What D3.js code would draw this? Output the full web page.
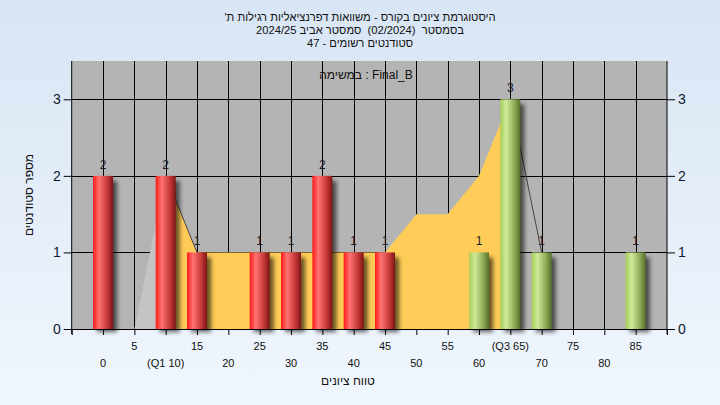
<!DOCTYPE html>
<html>
<head>
<meta charset="utf-8">
<script src="https://cdn.jsdelivr.net/npm/d3@7"></script>
<style>
	body { margin: 0; }
	svg { display: block; font-family: "Liberation Sans", Arial, sans-serif; }
	.pre { white-space: pre; }
</style>
</head>
<body>
<svg id="chart" width="720" height="405"></svg>
<script>
// Title lines
var titleLines = [
	"היסטוגרמת ציונים בקורס - משוואות דפרנציאליות רגילות ת'",
	"בסמסטר  (02/2024)  סמסטר אביב 2024/25",
	"סטודנטים רשומים - 47"
];
var subTitle = "במשימה : Final_B";
var xTitle = "טווח ציונים";
var yTitle = "מספר סטודנטים";

// Histogram bins and counts
var categories = [0, 5, 10, 15, 20, 25, 30, 35, 40, 45, 50, 55, 60, 65, 70, 75, 80, 85];
var counts     = [2, 0, 2, 1, 0, 1, 1, 2, 1, 1, 0, 0, 1, 3, 1, 0, 0, 1];
var tickLabels = ["0", "5", "(Q1 10)", "15", "20", "25", "30", "35", "40", "45",
	"50", "55", "60", "(Q3 65)", "70", "75", "80", "85"];
// bins from here on drawn green
var passFrom = 60;

// Background distribution curve
var curveX = [5, 10, 15, 20, 25, 30, 35, 40, 45, 50, 55, 60, 65, 70];
var curveY = [0, 2, 1, 1, 1, 1, 1, 1, 1, 1.5, 1.5, 2, 3, 1];

var yTicks = [0, 1, 2, 3];

var svg = d3.select("#chart");
var defs = svg.append("defs");

// page background
var bg = defs.append("linearGradient").attr("id", "bg")
	.attr("x1", 0).attr("y1", 0).attr("x2", 0).attr("y2", 1);
bg.append("stop").attr("offset", "0%").attr("stop-color", "#d8e5f4");
bg.append("stop").attr("offset", "100%").attr("stop-color", "#f0f6fd");

function cylinder(id, c0, c1, c2, c3) {
	var g = defs.append("linearGradient").attr("id", id)
		.attr("x1", 0).attr("y1", 0).attr("x2", 1).attr("y2", 0);
	g.append("stop").attr("offset", "0%").attr("stop-color", c0);
	g.append("stop").attr("offset", "30%").attr("stop-color", c1);
	g.append("stop").attr("offset", "70%").attr("stop-color", c2);
	g.append("stop").attr("offset", "100%").attr("stop-color", c3);
}
cylinder("red", "#ff1a1a", "#ff7272", "#c83a3a", "#7e1414");
cylinder("green", "#a6cf58", "#cfe99a", "#8fae58", "#55702a");

var blur = defs.append("filter").attr("id", "shadow")
	.attr("x", "-50%").attr("y", "-20%").attr("width", "200%").attr("height", "140%");
blur.append("feGaussianBlur").attr("stdDeviation", 2);

svg.append("rect").attr("width", 720).attr("height", 405).attr("fill", "url(#bg)");

var x = d3.scaleLinear().domain([-5, 90]).range([71.7, 667]);
var y = d3.scaleLinear().domain([0, 3.5]).range([329, 61]);

// plot area
svg.append("rect")
	.attr("x", x(-5)).attr("y", y(3.5))
	.attr("width", x(90) - x(-5)).attr("height", y(0) - y(3.5))
	.attr("fill", "#b4b4b4");

// grid
svg.append("g").selectAll("line").data(categories).join("line")
	.attr("x1", d => Math.round(x(d)) + 0.5).attr("x2", d => Math.round(x(d)) + 0.5)
	.attr("y1", y(3.5)).attr("y2", y(0))
	.attr("stroke", "#000");
svg.append("g").selectAll("line").data(yTicks.slice(1)).join("line")
	.attr("x1", x(-5)).attr("x2", x(90))
	.attr("y1", d => Math.round(y(d)) + 0.5).attr("y2", d => Math.round(y(d)) + 0.5)
	.attr("stroke", "#000");

// distribution curve: grey lead-in, yellow body, plain tail
var pts = curveX.map((d, i) => [d, curveY[i]]);
var area = d3.area().x(d => x(d[0])).y0(y(0)).y1(d => y(d[1]));
var line = d3.line().x(d => x(d[0])).y(d => y(d[1]));
var last = pts.length - 1;
svg.append("path").attr("d", area(pts.slice(0, 2))).attr("fill", "#c4c4c4");
svg.append("path").attr("d", area(pts.slice(1, last))).attr("fill", "#ffcc58");
svg.append("path").attr("d", line(pts.slice(1, 3))).attr("fill", "none")
	.attr("stroke", "#444").attr("stroke-width", 1);
svg.append("path").attr("d", line(pts.slice(last - 1))).attr("fill", "none")
	.attr("stroke", "#444").attr("stroke-width", 1);

// bars
var bw = 20;
var bins = categories.map((d, i) => ({ c: d, n: counts[i] })).filter(d => d.n > 0);
svg.append("g").selectAll("rect").data(bins).join("rect")
	.attr("x", d => x(d.c) - bw / 2 + 4).attr("y", d => y(d.n) + 5)
	.attr("width", bw).attr("height", d => y(0) - y(d.n) - 2)
	.attr("fill", "#000").attr("opacity", 0.6)
	.attr("filter", "url(#shadow)");
svg.append("g").selectAll("rect").data(bins).join("rect")
	.attr("x", d => x(d.c) - bw / 2).attr("y", d => y(d.n))
	.attr("width", bw).attr("height", d => y(0) - y(d.n))
	.attr("fill", d => d.c >= passFrom ? "url(#green)" : "url(#red)");
svg.append("g").selectAll("text").data(bins).join("text")
	.attr("x", d => x(d.c)).attr("y", d => y(d.n) - 7)
	.attr("text-anchor", "middle").attr("font-size", 12).attr("fill", "#1a1a2a")
	.text(d => d.n);

// axes
var axisColor = "#000";
svg.append("line").attr("x1", x(-5)).attr("x2", x(-5)).attr("y1", y(3.5)).attr("y2", y(0) + 5).attr("stroke", axisColor);
svg.append("line").attr("x1", x(90)).attr("x2", x(90)).attr("y1", y(3.5)).attr("y2", y(0) + 5).attr("stroke", axisColor);
svg.append("line").attr("x1", x(-5)).attr("x2", x(90)).attr("y1", y(0) + 0.5).attr("y2", y(0) + 0.5).attr("stroke", axisColor);

var left = svg.append("g").attr("transform", "translate(" + x(-5) + ",0)")
	.call(d3.axisLeft(y).tickValues(yTicks).tickFormat(d3.format("d")).tickSize(8).tickPadding(3));
var right = svg.append("g").attr("transform", "translate(" + x(90) + ",0)")
	.call(d3.axisRight(y).tickValues(yTicks).tickFormat(d3.format("d")).tickSize(8).tickPadding(3));
[left, right].forEach(function(g) {
	g.select(".domain").remove();
	g.selectAll("text").attr("font-size", 14).attr("font-family", "Liberation Sans, Arial, sans-serif").attr("fill", "#0d1a2e");
	g.selectAll("line").attr("stroke", axisColor);
});

var xTicks = [-5].concat(categories).concat([90]);
var bottom = svg.append("g").attr("transform", "translate(0," + y(0) + ")")
	.call(d3.axisBottom(x).tickValues(xTicks).tickSize(6).tickFormat(""));
bottom.select(".domain").remove();
bottom.selectAll("line").attr("stroke", axisColor);

// labels staggered on two rows
svg.append("g").selectAll("text").data(categories).join("text")
	.attr("x", d => x(d))
	.attr("y", (d, i) => i % 2 ? 350 : 367)
	.attr("text-anchor", "middle").attr("font-size", 11).attr("fill", "#111")
	.text((d, i) => tickLabels[i]);

// titles
svg.append("g").selectAll("text").data(titleLines).join("text")
	.attr("class", "pre")
	.attr("x", 360).attr("y", (d, i) => 21 + i * 13)
	.attr("text-anchor", "middle").attr("direction", "rtl")
	.attr("font-size", 11.2).attr("fill", "#111")
	.text(d => d);
svg.append("text").attr("x", 366).attr("y", 79)
	.attr("text-anchor", "middle").attr("font-size", 12).attr("fill", "#111")
	.text(subTitle);
svg.append("text").attr("x", 348).attr("y", 385)
	.attr("text-anchor", "middle").attr("direction", "rtl").attr("font-size", 12).attr("fill", "#111")
	.text(xTitle);
svg.append("text").attr("transform", "translate(33,195) rotate(-90)")
	.attr("text-anchor", "middle").attr("direction", "rtl").attr("font-size", 12).attr("fill", "#111")
	.text(yTitle);
</script>
</body>
</html>
